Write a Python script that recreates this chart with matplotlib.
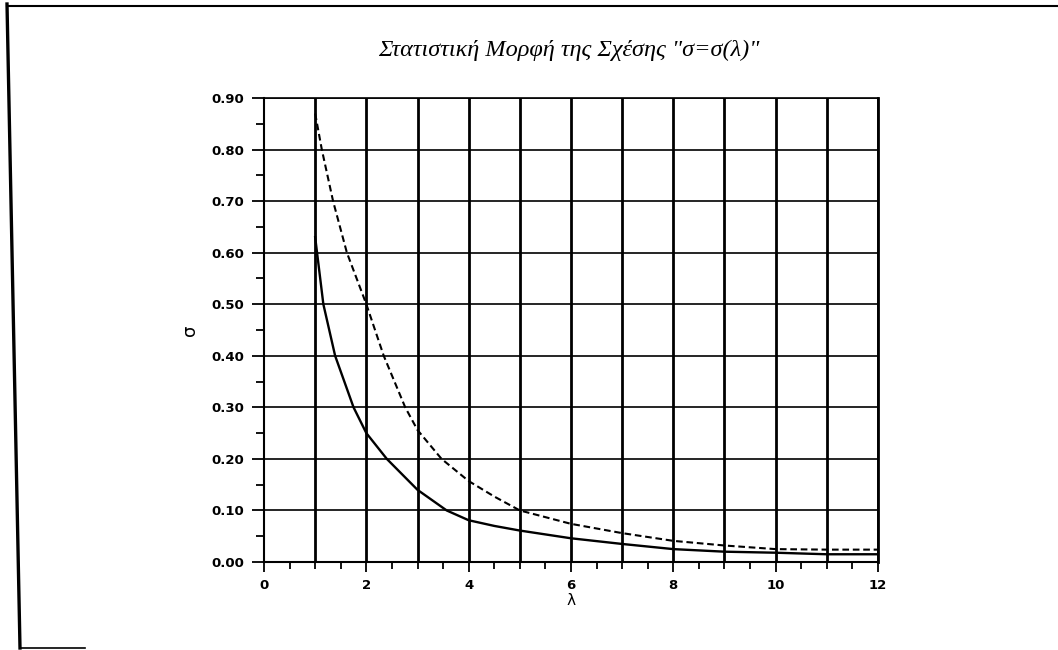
import matplotlib.pyplot as plt
import numpy as np
from matplotlib.lines import Line2D

# Values
lam_solid = [1.0, 1.16, 1.39, 1.75, 2.0, 2.4, 3.0, 3.57, 4.0, 4.5, 5.0, 6.0, 7.0, 8.0, 9.0, 10.0, 11.0, 12.0]
sigma_solid = [0.63, 0.50, 0.40, 0.30, 0.25, 0.20, 0.14, 0.10, 0.081, 0.070, 0.061, 0.046, 0.035, 0.025, 0.020, 0.018, 0.015, 0.015]

lam_dashed = [1.0, 1.13, 1.35, 1.62, 2.0, 2.34, 2.76, 3.0, 3.47, 4.0, 4.5, 5.0, 6.0, 7.0, 8.0, 9.0, 10.0, 11.0, 12.0]
sigma_dashed = [0.87, 0.80, 0.70, 0.60, 0.50, 0.40, 0.30, 0.256, 0.20, 0.157, 0.127, 0.10, 0.074, 0.056, 0.041, 0.032, 0.025, 0.024, 0.024]

x_major = np.arange(0, 13, 2)
x_grid = np.arange(1, 13, 1)
y_major = np.round(np.arange(0, 0.91, 0.1), 2)

title = 'Στατιστική Μορφή της Σχέσης "σ=σ(λ)"'

W, H = 1058, 650
fig = plt.figure(figsize=(W / 100, H / 100), dpi=100)
ax = fig.add_axes([264 / W, 1 - 562 / H, (878 - 264) / W, (562 - 98) / H])

# grid: thick verticals at every integer, thinner horizontals every 0.1
for xv in x_grid:
    ax.axvline(xv, color='black', linewidth=2.0, zorder=1)
for yv in y_major[1:]:
    ax.axhline(yv, color='black', linewidth=1.2, zorder=1)

ax.plot(lam_solid, sigma_solid, color='black', linewidth=1.7, zorder=3)
ax.plot(lam_dashed, sigma_dashed, color='black', linewidth=1.5,
        linestyle=(0, (3.2, 1.8)), zorder=3)

ax.set_xlim(0, 12)
ax.set_ylim(0, 0.9)

ax.set_xticks(x_major)
ax.set_xticks(np.arange(0, 12.01, 0.5), minor=True)
ax.set_yticks(y_major)
ax.set_yticks(np.arange(0.05, 0.9, 0.1), minor=True)
ax.set_yticklabels([f'{v:.2f}' for v in y_major])

ax.tick_params(axis='both', which='major', direction='out', width=1.3,
               labelsize=9.5, colors='black')
ax.tick_params(axis='x', which='major', length=7, pad=5)
ax.tick_params(axis='y', which='major', length=9, pad=5)
ax.tick_params(axis='x', which='minor', length=5, width=1.3)
ax.tick_params(axis='y', which='minor', length=6, width=1.3)
for lab in ax.get_xticklabels() + ax.get_yticklabels():
    lab.set_fontweight('bold')

for side in ['left', 'bottom']:
    ax.spines[side].set_linewidth(1.5)
ax.spines['top'].set_linewidth(1.2)
ax.spines['right'].set_linewidth(2.0)

ax.set_xlabel('λ', fontsize=11, labelpad=1)
ax.set_ylabel('σ', fontsize=13, labelpad=9)

fig.text(569 / W, 1 - 50 / H, title, ha='center', va='center',
         fontsize=17.5, style='italic', family='Liberation Serif')

# scanned page frame
fig.add_artist(Line2D([7 / W, 20 / W], [1 - 4 / H, 1 - 648 / H],
                      transform=fig.transFigure, color='black', linewidth=2.4))
fig.add_artist(Line2D([7 / W, 1], [1 - 6 / H, 1 - 6 / H],
                      transform=fig.transFigure, color='black', linewidth=1.5))
fig.add_artist(Line2D([20 / W, 85 / W], [1 - 648 / H, 1 - 648 / H],
                      transform=fig.transFigure, color='black', linewidth=1.2))

fig.savefig('out.png', dpi=100)
